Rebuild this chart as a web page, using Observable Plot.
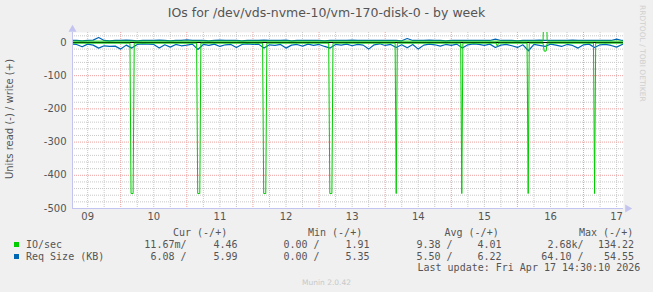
<!DOCTYPE html>
<html><head><meta charset="utf-8">
<script src="https://cdn.jsdelivr.net/npm/d3@7"></script>
<script src="https://cdn.jsdelivr.net/npm/@observablehq/plot@0.6"></script>
<style>
html,body{margin:0;padding:0;background:#f0f0f0;}
#wrap{position:relative;width:653px;height:292px;overflow:hidden;font-family:"DejaVu Sans",sans-serif;background:#f0f0f0;}
#wrap svg{position:absolute;left:0;top:0;}
.t{position:absolute;white-space:pre;}
.mono{font-family:"DejaVu Sans Mono",monospace;font-size:10px;line-height:12px;color:#555;}
</style></head><body><div id="wrap"></div>
<script>
// ---------- data ----------
const title = "IOs for /dev/vds-nvme-10/vm-170-disk-0 - by week";
const yLabel = "Units read (-) / write (+)";
const baseTime = Date.UTC(2026, 3, 9); // Apr 9 2026 00:00 (hours below are counted from here)
const xDomainHours = [6.5, 206.5];
const yDomain = [-500, 30];
const yMajorTicks = [0, -100, -200, -300, -400, -500];
const yMinorTicks = [20, -20, -40, -60, -80, -120, -140, -160, -180, -220, -240, -260, -280, -320, -340, -360, -380, -420, -440, -460, -480];
const xMajorHours = [24, 48, 72, 96, 120, 144, 168, 192];
const xMinorHours = [12, 18, 30, 36, 42, 54, 60, 66, 78, 84, 90, 102, 108, 114, 126, 132, 138, 150, 156, 162, 174, 180, 186, 198, 204];
const dayLabelHours = [12, 36, 60, 84, 108, 132, 156, 180, 204];
const dayLabels = ["09", "10", "11", "12", "13", "14", "15", "16", "17"];

// IO/sec read (plotted negative)
const ioReadHours  = [6.5, 27.35, 27.75, 28.5, 28.9, 51.55, 51.95, 52.7, 53.1, 75.5, 75.9, 76.65, 77.05, 99.5, 99.9, 100.65, 101.05, 123.6, 124.0, 124.4, 147.4, 147.8, 148.2, 160.3, 160.7, 161.1, 171.5, 171.9, 172.3, 177.3, 177.7, 178.4, 178.8, 195.6, 196.0, 196.4, 206.5];
const ioReadValues = [-2, -2, -455, -455, -2, -2, -455, -455, -2, -2, -455, -455, -2, -2, -455, -455, -2, -2, -455, -2, -2, -455, -2, -2, -12, -2, -2, -455, -2, -2, -26, -26, -2, -2, -455, -2, -2];
// IO/sec write (positive)
const ioWriteHours  = [6.5, 177.3, 177.7, 178.4, 178.8, 206.5];
const ioWriteValues = [4, 4, 134, 134, 4, 4];

// Req Size, sampled every 2 hours from hour 6
const reqStartHour = 6, reqStepHours = 2;
const reqReadValues = [-5,-6,-13,-5,-8,-17,-10,-12,-11,-20,
  -8,-17,-6,-4,-5,-6,-17,-7,-14,-6,
  -10,-8,-5,-21,-6,-9,-5,-12,-7,-6,
  -15,-6,-4,-6,-5,-17,-7,-9,-6,-17,
  -8,-6,-11,-5,-9,-6,-12,-17,-6,-8,
  -5,-10,-6,-8,-20,-7,-4,-9,-6,-15,
  -7,-16,-6,-20,-8,-5,-7,-11,-6,-9,
  -5,-17,-7,-4,-6,-9,-5,-15,-8,-6,
  -10,-15,-7,-25,-6,-9,-12,-5,-8,-12,
  -6,-9,-17,-7,-5,-15,-7,-6,-9,-14,
  -6,-6];
const reqWriteValues = [6,6,5,6,7,15,6,5,6,6,
  7,6,5,6,6,6,7,6,5,6,
  6,8,6,6,6,5,6,7,6,6,
  6,5,6,6,6,7,6,6,6,7,
  5,6,6,6,6,6,5,6,6,6,
  6,7,6,6,6,6,6,6,6,6,
  5,12,6,6,6,7,6,6,5,6,
  6,6,6,6,6,6,6,10,6,6,
  6,5,6,6,6,7,6,6,6,6,
  6,7,6,6,6,6,6,6,6,10,
  6,6];

// legend
const seriesNames = ["IO/sec", "Req Size (KB)"];
const seriesColors = ["#00cc00", "#0066b3"];
const colHeaders = ["Cur (-/+)", "Min (-/+)", "Avg (-/+)", "Max (-/+)"];
const readCells  = [["11.67m/", "0.00 /", "9.38 /", "2.68k/"], ["6.08 /", "0.00 /", "5.50 /", "64.10 /"]];
const writeCells = [["4.46", "1.91", "4.01", "134.22"], ["5.99", "5.35", "6.22", "54.55"]];
const lastUpdate = "Last update: Fri Apr 17 14:30:10 2026";
const version = "Munin 2.0.42";
const watermark = "RRDTOOL / TOBI OETIKER";

// ---------- build ----------
const toDate = h => new Date(baseTime + h * 3600e3);
const ioRead = ioReadHours.map((h, i) => ({t: toDate(h), v: ioReadValues[i]}));
const ioWrite = ioWriteHours.map((h, i) => ({t: toDate(h), v: ioWriteValues[i]}));
const reqRead = reqReadValues.map((v, i) => ({t: toDate(reqStartHour + i * reqStepHours), v}));
const reqWrite = reqWriteValues.map((v, i) => ({t: toDate(reqStartHour + i * reqStepHours), v}));
const xDom = xDomainHours.map(toDate);
const labelByTime = new Map(dayLabelHours.map((h, i) => [+toDate(h), dayLabels[i]]));
const axisColor = "#c4c4f0";

const chart = Plot.plot({
  width: 653, height: 225,
  marginLeft: 72, marginRight: 30, marginTop: 32, marginBottom: 17,
  style: {background: "transparent", fontFamily: "DejaVu Sans, sans-serif", fontSize: "10px", color: "#555", overflow: "visible"},
  x: {type: "utc", domain: xDom},
  y: {domain: yDomain},
  marks: [
    Plot.frame({fill: "white", stroke: "none"}),
    Plot.ruleY(yMinorTicks, {stroke: "#c8c8c8", strokeDasharray: "1,1"}),
    Plot.ruleX(xMinorHours.map(toDate), {stroke: "#c8c8c8", strokeDasharray: "1,1"}),
    Plot.ruleY(yMajorTicks, {stroke: "#eea0a0", strokeDasharray: "1,1"}),
    Plot.ruleX(xMajorHours.map(toDate), {stroke: "#eea0a0", strokeDasharray: "1,1"}),
    Plot.lineY(reqWrite, {x: "t", y: "v", stroke: seriesColors[1], strokeWidth: 1.2, clip: true}),
    Plot.lineY(reqRead, {x: "t", y: "v", stroke: seriesColors[1], strokeWidth: 1.2, clip: true}),
    Plot.ruleY([0], {stroke: "#000", strokeWidth: 1}),
    Plot.lineY(ioWrite, {x: "t", y: "v", stroke: seriesColors[0], strokeWidth: 1, clip: true}),
    Plot.lineY(ioRead, {x: "t", y: "v", stroke: seriesColors[0], strokeWidth: 1, clip: true}),
    // axis lines with arrows
    Plot.ruleX([xDom[0]], {y1: yDomain[0], y2: yDomain[1], stroke: axisColor}),
    Plot.ruleY([yDomain[0]], {x1: xDom[0], x2: xDom[1], stroke: axisColor}),
    Plot.dot([xDom[0]], {x: d => d, y: yDomain[1], symbol: "triangle", r: 3, fill: axisColor, stroke: "none", dy: -3}),
    Plot.dot([xDom[1]], {x: d => d, y: yDomain[0], symbol: "triangle", r: 3, fill: axisColor, stroke: "none", rotate: 90, dx: 4}),
    Plot.axisY(yMajorTicks, {tickSize: 0, tickPadding: 6, tickFormat: d => String(d), label: null, fontSize: 10}),
    Plot.axisX(dayLabelHours.map(toDate), {tickSize: 0, tickPadding: 4, tickFormat: d => labelByTime.get(+d), label: null, fontSize: 10})
  ]
});

const wrap = document.getElementById("wrap");
wrap.appendChild(chart);

function place(text, x, yc, opts = {}) {
  const s = document.createElement("div");
  s.className = "t " + (opts.cls || "");
  s.textContent = text;
  if (opts.align === "right") s.style.right = (653 - x) + "px"; else s.style.left = x + "px";
  s.style.top = (yc - 6) + "px";
  if (opts.style) Object.assign(s.style, opts.style);
  wrap.appendChild(s);
  return s;
}
// title
place(title, 0, 13, {style: {left: "0px", width: "653px", textAlign: "center", fontSize: "12.5px", color: "#555", lineHeight: "12px"}});
// y label
place(yLabel, 0, 119, {style: {left: "10px", top: "119px", fontSize: "10px", color: "#555", lineHeight: "12px", transform: "translate(-50%,-50%) rotate(-90deg)"}});
// watermark
place(watermark, 0, 0, {style: {left: "638px", top: "5px", fontSize: "7.5px", color: "#cfcfcf", writingMode: "vertical-rl", lineHeight: "9px"}});
// legend
const headerX = [173, 308, 444.5, 579];
colHeaders.forEach((h, i) => place(h, headerX[i], 233, {cls: "mono"}));
const readRight = [186.5, 319.5, 452.5, 583.5];
const writeRight = [237.5, 369.5, 501.5, 634];
const rowY = [244.5, 256.5];
seriesNames.forEach((n, r) => {
  const sq = document.createElement("div");
  Object.assign(sq.style, {position: "absolute", left: "14px", top: (rowY[r] - 2.5) + "px", width: "5px", height: "5px", background: seriesColors[r]});
  wrap.appendChild(sq);
  place(n, 26, rowY[r], {cls: "mono"});
  readCells[r].forEach((c, i) => place(c, readRight[i], rowY[r], {cls: "mono", align: "right"}));
  writeCells[r].forEach((c, i) => place(c, writeRight[i], rowY[r], {cls: "mono", align: "right"}));
});
place(lastUpdate, 417.5, 268, {cls: "mono"});
place(version, 0, 282.5, {style: {left: "0px", width: "653px", textAlign: "center", fontSize: "7.5px", color: "#c8c8c8", lineHeight: "12px"}});
</script></body></html>
